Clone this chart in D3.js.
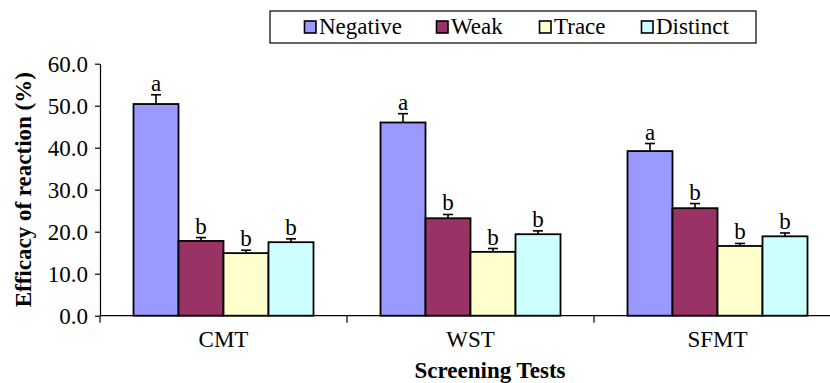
<!DOCTYPE html>
<html>
<head>
<meta charset="utf-8">
<script src="https://cdn.jsdelivr.net/npm/d3@7"></script>
<style>
  html, body { margin: 0; padding: 0; background: #fff; }
  svg { display: block; font-family: "Liberation Serif", "Times New Roman", serif; }
</style>
</head>
<body>
<svg id="chart" width="830" height="383"></svg>
<script>
// Screening tests on the x axis, reaction classes as grouped bars
const categories = ["CMT", "WST", "SFMT"];
const series = ["Negative", "Weak", "Trace", "Distinct"];
const colors = ["#9999FF", "#993366", "#FFFFCC", "#CCFFFF"];

// Mean efficacy (%) per test, one array per reaction class
const negative = [50.4, 46.0, 39.2];
const weak = [17.8, 23.2, 25.6];
const trace = [14.9, 15.2, 16.6];
const distinct = [17.5, 19.4, 18.9];

// Upper error (%) per test, one array per reaction class
const negativeErr = [2.2, 2.1, 1.8];
const weakErr = [0.8, 0.9, 1.1];
const traceErr = [0.7, 0.8, 0.6];
const distinctErr = [0.8, 0.8, 0.8];

// Significance letters
const negativeSig = ["a", "a", "a"];
const weakSig = ["b", "b", "b"];
const traceSig = ["b", "b", "b"];
const distinctSig = ["b", "b", "b"];

const yTicks = [0, 10, 20, 30, 40, 50, 60];

const valueSets = [negative, weak, trace, distinct];
const errSets = [negativeErr, weakErr, traceErr, distinctErr];
const sigSets = [negativeSig, weakSig, traceSig, distinctSig];

const rows = [];
categories.forEach((c, ci) => {
  series.forEach((s, si) => {
    rows.push({
      cat: c, ser: s, color: colors[si],
      value: valueSets[si][ci], err: errSets[si][ci], sig: sigSets[si][ci]
    });
  });
});

const FONT = 23;
const svg = d3.select("#chart");
const plot = { left: 100, right: 841, top: 63.7, bottom: 315.7 };

const x0 = d3.scaleBand().domain(categories).range([plot.left, plot.right]);
const x1 = d3.scaleBand().domain(series).range([33.5, x0.bandwidth() - 33.5]);
const y = d3.scaleLinear().domain([0, 60]).range([plot.bottom, plot.top]);

// Bars
const g = svg.append("g");
g.selectAll("rect.bar").data(rows).join("rect")
  .attr("class", "bar")
  .attr("x", d => x0(d.cat) + x1(d.ser))
  .attr("y", d => y(d.value))
  .attr("width", x1.bandwidth())
  .attr("height", d => y(0) - y(d.value))
  .attr("fill", d => d.color)
  .attr("stroke", "#000")
  .attr("stroke-width", 1.8);

// Error bars (upper only) with significance letters
const eb = g.selectAll("g.err").data(rows).join("g").attr("class", "err")
  .attr("transform", d => `translate(${x0(d.cat) + x1(d.ser) + x1.bandwidth() / 2},0)`);
eb.append("line")
  .attr("x1", 0).attr("x2", 0)
  .attr("y1", d => y(d.value)).attr("y2", d => y(d.value + d.err))
  .attr("stroke", "#000").attr("stroke-width", 1.6);
eb.append("line")
  .attr("x1", -5).attr("x2", 5)
  .attr("y1", d => y(d.value + d.err)).attr("y2", d => y(d.value + d.err))
  .attr("stroke", "#000").attr("stroke-width", 1.6);
eb.append("text")
  .attr("y", d => y(d.value + d.err) - 4)
  .attr("text-anchor", "middle")
  .attr("font-size", FONT)
  .attr("fill", "#000")
  .text(d => d.sig);

// Y axis
const yAxis = svg.append("g")
  .attr("transform", `translate(${plot.left},0)`)
  .call(d3.axisLeft(y).tickValues(yTicks).tickSize(5).tickSizeOuter(0).tickPadding(7)
    .tickFormat(d3.format(".1f")));
yAxis.select(".domain").attr("stroke", "#000").attr("stroke-width", 1.2);
yAxis.selectAll(".tick line").attr("stroke", "#000").attr("stroke-width", 1.2);
yAxis.selectAll(".tick text")
  .attr("font-family", "Liberation Serif, Times New Roman, serif")
  .attr("font-size", FONT).attr("fill", "#000");

// X axis: ticks at category boundaries
const xAxisG = svg.append("g").attr("transform", `translate(0,${plot.bottom})`);
xAxisG.append("line")
  .attr("x1", plot.left).attr("x2", plot.right)
  .attr("stroke", "#000").attr("stroke-width", 1.2);
const boundaries = categories.map(c => x0(c)).concat([x0.range()[1]]);
xAxisG.selectAll("line.tick").data(boundaries).join("line")
  .attr("class", "tick")
  .attr("x1", d => d).attr("x2", d => d)
  .attr("y1", 0).attr("y2", 7)
  .attr("stroke", "#000").attr("stroke-width", 1.2);
xAxisG.selectAll("text.cat").data(categories).join("text")
  .attr("class", "cat")
  .attr("x", d => x0(d) + x0.bandwidth() / 2)
  .attr("y", 31)
  .attr("text-anchor", "middle")
  .attr("font-size", FONT)
  .attr("fill", "#000")
  .text(d => d);

// Axis titles
svg.append("text")
  .attr("x", 490).attr("y", 378)
  .attr("text-anchor", "middle")
  .attr("font-size", FONT).attr("font-weight", "bold")
  .text("Screening Tests");
svg.append("text")
  .attr("transform", `translate(31,${(plot.top + plot.bottom) / 2}) rotate(-90)`)
  .attr("text-anchor", "middle")
  .attr("font-size", FONT).attr("font-weight", "bold")
  .text("Efficacy of reaction (%)");

// Legend
const legend = svg.append("g");
legend.append("rect")
  .attr("x", 270).attr("y", 11).attr("width", 486).attr("height", 32)
  .attr("fill", "#fff").attr("stroke", "#000").attr("stroke-width", 1.2);
const legendX = [304, 436, 539, 641];
const li = legend.selectAll("g.item").data(series).join("g").attr("class", "item")
  .attr("transform", (d, i) => `translate(${legendX[i]},0)`);
li.append("rect")
  .attr("x", 0.5).attr("y", 21).attr("width", 11.5).attr("height", 12)
  .attr("fill", (d, i) => colors[i]).attr("stroke", "#000").attr("stroke-width", 1.6);
li.append("text")
  .attr("x", 15).attr("y", 34)
  .attr("font-size", FONT).attr("fill", "#000")
  .text(d => d);
</script>
</body>
</html>
